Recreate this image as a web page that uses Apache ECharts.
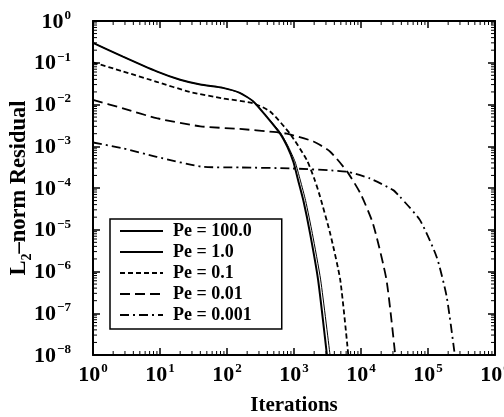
<!DOCTYPE html>
<html>
<head>
<meta charset="utf-8">
<script src="https://cdn.jsdelivr.net/npm/echarts@6/dist/echarts.min.js"></script>
<style>
html,body{margin:0;padding:0;background:#fff;}
#chart{width:504px;height:417px;}
</style>
</head>
<body>
<div id="chart"></div>
<script>
// ---- data ----
const seriesNames = ['Pe = 100.0', 'Pe = 1.0', 'Pe = 0.1', 'Pe = 0.01', 'Pe = 0.001'];

const pe100 = [[1,0.30],[2.8,0.14],[8.9,0.062],[20,0.039],[40,0.030],[87,0.025],[155,0.019],[245,0.012],[390,0.0051],[620,0.002],[800,9.5e-4],[980,4.2e-4],[1150,1.55e-4],[1380,5.0e-5],[1740,8.1e-6],[2290,6.3e-7],[3100,1e-8]];
const pe1 = [[1,0.30],[2.8,0.14],[8.9,0.062],[20,0.039],[40,0.030],[87,0.025],[155,0.019],[245,0.012],[390,0.0052],[630,0.0021],[830,9.5e-4],[1040,4.2e-4],[1240,1.55e-4],[1490,5.0e-5],[1880,8.1e-6],[2500,6.3e-7],[3450,1e-8]];
const pe01 = [[1,0.102],[2.8,0.062],[8.9,0.035],[28,0.020],[87,0.014],[245,0.0107],[440,0.0068],[870,0.002],[1550,4.7e-4],[2040,1.55e-4],[2450,6.2e-5],[3470,8.1e-6],[4900,6.3e-7],[6460,1e-8]];
const pe001 = [[1,0.0129],[2.8,0.0081],[8.9,0.0047],[40,0.003],[155,0.0026],[490,0.0022],[780,0.002],[1950,0.0013],[3470,7.4e-4],[6170,2.5e-4],[9800,7.4e-5],[15100,1.4e-5],[24000,6.3e-7],[32400,1e-8]];
const pe0001 = [[1,0.00123],[2.8,8.9e-4],[8.9,5.6e-4],[45,3.2e-4],[155,3.1e-4],[870,2.95e-4],[6170,2.45e-4],[13500,1.7e-4],[30200,8.9e-5],[38000,6.2e-5],[75900,1.7e-5],[135000,2.2e-6],[190000,2.5e-7],[251000,1e-8]];

// axis extents
const xMin = 1, xMax = 1e6;
const yMin = 1e-8, yMax = 1;

// minor tick positions (2..9 x 10^k)
const xMinorTicks = [];
for (let k = 0; k < 6; k++) for (let m = 2; m <= 9; m++) xMinorTicks.push([m * Math.pow(10, k), yMin]);
const yMinorTicks = [];
for (let k = -8; k < 0; k++) for (let m = 2; m <= 9; m++) yMinorTicks.push([xMin, m * Math.pow(10, k)]);

const FONT = 'Liberation Serif';
const supFmt = v => {
  const e = Math.round(Math.log10(v));
  return '{b|10}{s|' + (e < 0 ? '\u2212' + (-e) : e) + '}';
};
const labelRich = {
  b: {fontFamily: FONT, fontWeight: 'bold', fontSize: 22, color: '#000', verticalAlign: 'bottom'},
  s: {fontFamily: FONT, fontWeight: 'bold', fontSize: 13, color: '#000', verticalAlign: 'bottom', padding: [0, 0, 11, 1]}
};

const chart = echarts.init(document.getElementById('chart'));

function minorTickRender(isX) {
  return function (params, api) {
    const cs = params.coordSys;
    const len = 4;
    if (isX) {
      const p = api.coord([api.value(0), yMin]);
      return {type: 'group', children: [
        {type: 'line', shape: {x1: p[0], y1: cs.y + cs.height, x2: p[0], y2: cs.y + cs.height - len}, style: {stroke: '#000', lineWidth: 1}},
        {type: 'line', shape: {x1: p[0], y1: cs.y, x2: p[0], y2: cs.y + len}, style: {stroke: '#000', lineWidth: 1}}
      ]};
    } else {
      const p = api.coord([xMin, api.value(1)]);
      return {type: 'group', children: [
        {type: 'line', shape: {x1: cs.x, y1: p[1], x2: cs.x + len, y2: p[1]}, style: {stroke: '#000', lineWidth: 1}},
        {type: 'line', shape: {x1: cs.x + cs.width, y1: p[1], x2: cs.x + cs.width - len, y2: p[1]}, style: {stroke: '#000', lineWidth: 1}}
      ]};
    }
  };
}

const lineBase = (name, data, width, type) => ({
  name, type: 'line', data, symbol: 'none', smooth: 0.2,
  xAxisIndex: 0, yAxisIndex: 0,
  lineStyle: {color: '#000', width, type}, itemStyle: {color: '#000'},
  z: 3
});

const option = {
  animation: false,
  backgroundColor: '#fff',
  grid: {left: 93, top: 21, right: 9, bottom: 62, outerBoundsMode: 'none', containLabel: false},
  legend: {
    data: seriesNames,
    orient: 'vertical',
    left: 110, top: 219,
    padding: [3, 30, 5, 9],
    borderColor: '#000', borderWidth: 1.5,
    itemWidth: 43, itemHeight: 12, itemGap: 3,
    itemStyle: {opacity: 0},
    textStyle: {fontFamily: FONT, fontWeight: 'bold', fontSize: 18, color: '#000', padding: [0, 0, 0, 5]}
  },
  xAxis: [{
    type: 'log', logBase: 10, min: xMin, max: xMax, splitNumber: 6,
    position: 'bottom',
    name: 'Iterations', nameLocation: 'middle', nameGap: 40, nameMoveOverlap: false,
    nameTextStyle: {fontFamily: FONT, fontWeight: 'bold', fontSize: 21, color: '#000'},
    axisLine: {lineStyle: {color: '#000', width: 2}},
    axisTick: {inside: true, length: 7, lineStyle: {color: '#000', width: 1.5}},
    axisLabel: {formatter: supFmt, rich: labelRich, margin: 7},
    splitLine: {show: false}, minorTick: {show: false}
  }, {
    type: 'log', logBase: 10, min: xMin, max: xMax, splitNumber: 6,
    position: 'top',
    axisLine: {lineStyle: {color: '#000', width: 2}},
    axisTick: {inside: true, length: 7, lineStyle: {color: '#000', width: 1.5}},
    axisLabel: {show: false}, splitLine: {show: false}
  }],
  yAxis: [{
    type: 'log', logBase: 10, min: yMin, max: yMax, splitNumber: 8,
    position: 'left',
    name: '{t|L}{sub|2}{t|\u2013norm Residual}', nameLocation: 'middle', nameGap: 62, nameRotate: 90, nameMoveOverlap: false,
    nameTextStyle: {rich: {
      t: {fontFamily: FONT, fontWeight: 'bold', fontSize: 22.5, color: '#000', verticalAlign: 'bottom'},
      sub: {fontFamily: FONT, fontWeight: 'bold', fontSize: 14, color: '#000', verticalAlign: 'bottom', padding: [0, 0, -3, 0]}
    }},
    axisLine: {lineStyle: {color: '#000', width: 2}},
    axisTick: {inside: true, length: 7, lineStyle: {color: '#000', width: 1.5}},
    axisLabel: {formatter: supFmt, rich: labelRich, margin: 22},
    splitLine: {show: false}
  }, {
    type: 'log', logBase: 10, min: yMin, max: yMax, splitNumber: 8,
    position: 'right',
    axisLine: {lineStyle: {color: '#000', width: 2}},
    axisTick: {inside: true, length: 7, lineStyle: {color: '#000', width: 1.5}},
    axisLabel: {show: false}, splitLine: {show: false}
  }],
  series: [
    lineBase(seriesNames[0], pe100, 2, 'solid'),
    lineBase(seriesNames[1], pe1, 1, 'solid'),
    lineBase(seriesNames[2], pe01, 1.8, [5, 3]),
    lineBase(seriesNames[3], pe001, 1.8, [10, 5]),
    lineBase(seriesNames[4], pe0001, 1.8, [9, 4, 2, 4]),
    {type: 'custom', name: 'xMinor', data: xMinorTicks, renderItem: minorTickRender(true), xAxisIndex: 0, yAxisIndex: 0, silent: true, clip: false, z: 4},
    {type: 'custom', name: 'yMinor', data: yMinorTicks, renderItem: minorTickRender(false), xAxisIndex: 0, yAxisIndex: 0, silent: true, clip: false, z: 4}
  ]
};
chart.setOption(option);
</script>
</body>
</html>
